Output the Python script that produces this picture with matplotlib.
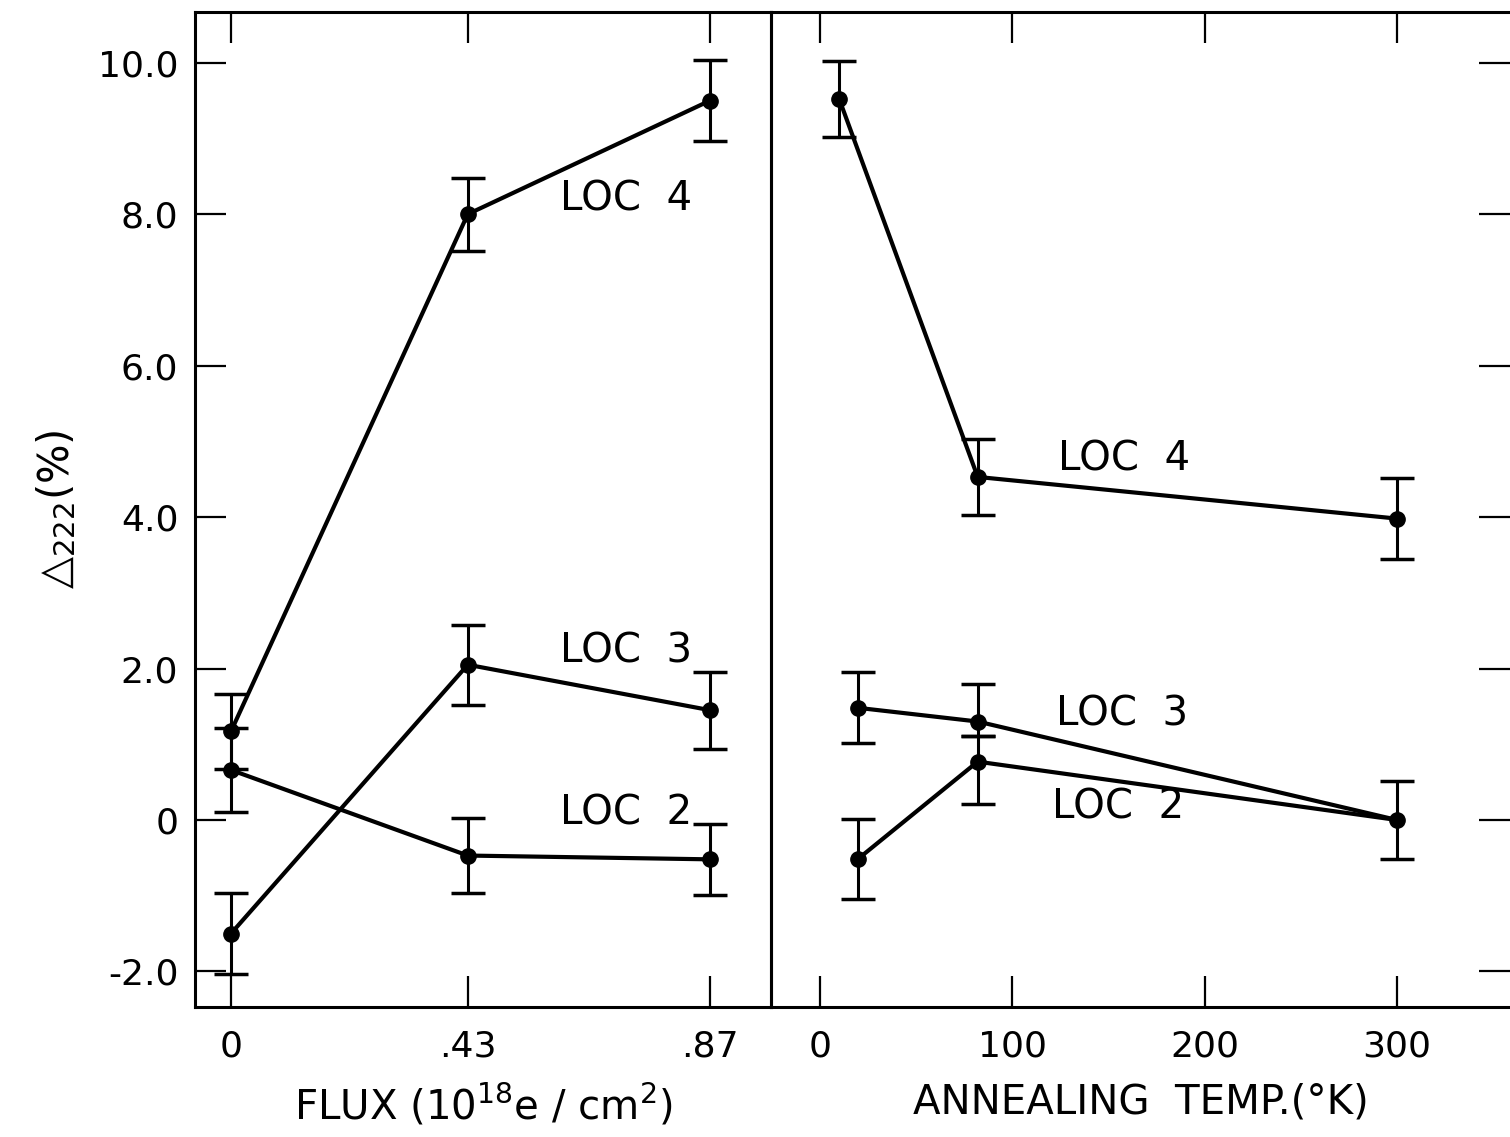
import matplotlib
matplotlib.use('Agg')
import matplotlib.pyplot as plt

# flux panel
flux = [0, 0.43, 0.87]
flux_ticklabels = ['0', '.43', '.87']
loc4_flux = [1.17, 8.0, 9.5]
loc4_flux_err = [0.5, 0.48, 0.53]
loc3_flux = [-1.5, 2.05, 1.45]
loc3_flux_err = [0.53, 0.53, 0.51]
loc2_flux = [0.66, -0.47, -0.52]
loc2_flux_err = [0.55, 0.49, 0.47]

# annealing panel
temp_loc4 = [10, 82, 300]
loc4_temp = [9.52, 4.53, 3.98]
loc4_temp_err = [0.5, 0.5, 0.53]
temp_loc23 = [20, 82, 300]
loc3_temp = [1.48, 1.3]
loc3_temp_lo = [0.46, 0.19]
loc3_temp_hi = [0.48, 0.5]
loc2_temp = [-0.51, 0.77, 0.0]
loc2_temp_lo = [0.53, 0.56, 0.52]
loc2_temp_hi = [0.52, 0.34, 0.52]
temp_ticks = [0, 100, 200, 300]

yticks = [-2, 0, 2, 4, 6, 8, 10]
ytick_labels = ['-2.0', '0', '2.0', '4.0', '6.0', '8.0', '10.0']

plt.rcParams['font.family'] = ['DejaVu Sans']
fs = 26
ms = 11
lw = 3
ekw = dict(color='black', lw=lw, marker='o', ms=ms, capsize=12, capthick=2.5, elinewidth=2.2)

fig = plt.figure(figsize=(15.1, 11.37), dpi=100)
ax1 = fig.add_axes([195/1510, 1-1007/1137, (771-195)/1510, (1007-12)/1137])
ax2 = fig.add_axes([771/1510, 1-1007/1137, (1510-771)/1510, (1007-12)/1137])
ax2.patch.set_visible(False)

ax1.errorbar(flux, loc4_flux, yerr=loc4_flux_err, **ekw)
ax1.errorbar(flux, loc3_flux, yerr=loc3_flux_err, **ekw)
ax1.errorbar(flux, loc2_flux, yerr=loc2_flux_err, **ekw)
ax1.text(0.717, 8.19, 'LOC  4', fontsize=29, ha='center', va='center')
ax1.text(0.717, 2.22, 'LOC  3', fontsize=29, ha='center', va='center')
ax1.text(0.717, 0.09, 'LOC  2', fontsize=29, ha='center', va='center')

ax2.errorbar(temp_loc4, loc4_temp, yerr=loc4_temp_err, **ekw)
# LOC 3 ends on the same point as LOC 2 at 300 K
ax2.errorbar(temp_loc23[:2], loc3_temp, yerr=[loc3_temp_lo, loc3_temp_hi], **ekw)
ax2.plot([temp_loc23[1], temp_loc23[2]], [loc3_temp[1], loc2_temp[2]], color='black', lw=lw)
ax2.errorbar(temp_loc23, loc2_temp, yerr=[loc2_temp_lo, loc2_temp_hi], **ekw)
ax2.text(158, 4.76, 'LOC  4', fontsize=29, ha='center', va='center')
ax2.text(157, 1.39, 'LOC  3', fontsize=29, ha='center', va='center')
ax2.text(155, 0.16, 'LOC  2', fontsize=29, ha='center', va='center')

ylo, yhi = -2.47, 10.67
ax1.set_xlim(-36/550.6, 540/550.6)
ax1.set_ylim(ylo, yhi)
ax2.set_xlim(-49/1.923, 690/1.923)
ax2.set_ylim(ylo, yhi)

ax1.set_xticks(flux)
ax1.set_xticklabels(flux_ticklabels)
ax1.set_yticks(yticks)
ax1.set_yticklabels(ytick_labels)
ax2.set_xticks(temp_ticks)
ax2.set_yticks(yticks)
ax2.set_yticklabels([])

ax1.tick_params(direction='in', length=22, width=1.6, labelsize=fs,
                top=True, bottom=True, left=True, right=False, pad=16)
ax1.tick_params(axis='y', pad=12)
ax2.tick_params(direction='in', length=22, width=1.6, labelsize=fs,
                top=True, bottom=True, left=False, right=True, labelright=False, pad=16)

for ax in (ax1, ax2):
    for s in ax.spines.values():
        s.set_linewidth(2.2)
ax2.spines['right'].set_visible(False)

ax1.set_xlabel(r'FLUX (10$^{18}$e / cm$^{2}$)', fontsize=29, labelpad=14)
ax2.set_xlabel('ANNEALING  TEMP.(°K)', fontsize=29, labelpad=14)
ax1.set_ylabel(r'△$_{222}$(%)', fontsize=30, labelpad=14)

fig.savefig('out.png', dpi=100)
